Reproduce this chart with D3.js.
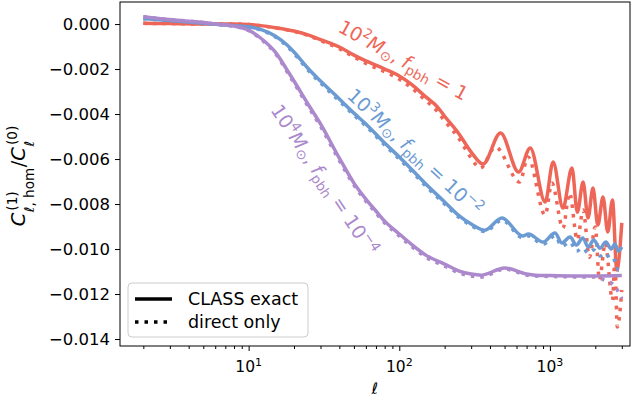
<!DOCTYPE html>
<html>
<head>
<meta charset="utf-8">
<script src="https://cdn.jsdelivr.net/npm/d3@7"></script>
<style>
  body { margin: 0; background: #fff; }
  text { font-family: "DejaVu Sans", sans-serif; }
</style>
</head>
<body>
<div id="chart"></div>
<script>
const width = 640;
const height = 402;
const plot = { left: 120, right: 630, top: 2, bottom: 346 };

// ---- data ----
const ell_red_exact = [2, 3, 5, 8, 10, 12, 15, 20, 25, 30, 40, 50, 60, 80, 100, 120, 150, 180, 200, 250, 300, 360, 470, 620, 740, 930, 1050, 1220, 1400, 1520, 1660, 1790, 1930, 2080, 2250, 2420, 2600, 2780, 3000];
const red_exact = [0.00003, 0.00002, 0, 0, -0.00002, -0.00007, -0.00016, -0.00031, -0.00049, -0.00069, -0.00102, -0.00138, -0.00164, -0.00200, -0.00231, -0.00267, -0.00324, -0.00370, -0.00410, -0.00490, -0.00569, -0.00622, -0.00484, -0.00658, -0.00551, -0.00791, -0.00613, -0.00818, -0.00640, -0.00836, -0.00702, -0.00862, -0.00729, -0.00893, -0.00769, -0.00924, -0.00782, -0.01093, -0.00884];

const ell_red_direct = [2, 3, 5, 8, 10, 12, 15, 20, 25, 30, 40, 50, 60, 80, 100, 120, 150, 180, 200, 250, 300, 345, 435, 630, 715, 930, 1030, 1220, 1350, 1520, 1660, 1830, 2000, 2130, 2330, 2600, 2700, 2800, 3000];
const red_direct = [0.00003, 0.00002, 0, 0, -0.00002, -0.00008, -0.00017, -0.00033, -0.00052, -0.00073, -0.00110, -0.00146, -0.00175, -0.00212, -0.00245, -0.00283, -0.00340, -0.00390, -0.00430, -0.00511, -0.00596, -0.00640, -0.00547, -0.00702, -0.00591, -0.00849, -0.00707, -0.00907, -0.00751, -0.00960, -0.00827, -0.01036, -0.00902, -0.01138, -0.00973, -0.01227, -0.01049, -0.01347, -0.01182];

const ell_blue_exact = [2, 3, 4, 5, 6, 8, 10, 12, 15, 18, 20, 25, 30, 40, 50, 60, 80, 100, 120, 150, 200, 250, 300, 370, 480, 660, 720, 900, 1080, 1200, 1360, 1500, 1650, 1800, 1950, 2150, 2350, 2550, 2700, 2850, 3000];
const blue_exact = [0.00024, 0.00016, 0.00009, 0.00003, -0.00001, -0.00007, -0.00012, -0.00024, -0.00053, -0.00093, -0.00124, -0.00200, -0.00253, -0.00333, -0.00396, -0.00444, -0.00529, -0.00591, -0.00644, -0.00711, -0.00791, -0.00853, -0.00889, -0.00916, -0.00862, -0.00942, -0.00933, -0.00969, -0.00929, -0.00973, -0.00947, -0.00982, -0.00951, -0.00991, -0.00960, -0.00996, -0.00969, -0.01000, -0.00978, -0.01009, -0.00991];
const blue_direct = [0.00024, 0.00016, 0.00009, 0.00003, -0.00001, -0.00008, -0.00013, -0.00026, -0.00057, -0.00099, -0.00131, -0.00208, -0.00262, -0.00342, -0.00405, -0.00453, -0.00538, -0.00600, -0.00653, -0.00720, -0.00800, -0.00860, -0.00896, -0.00922, -0.00872, -0.00950, -0.00942, -0.00978, -0.00942, -0.00987, -0.00969, -0.01010, -0.00996, -0.01018, -0.01004, -0.01031, -0.01018, -0.01053, -0.01050, -0.01093, -0.01084];

const ell_purple_exact = [2, 3, 4, 5, 6, 8, 10, 12, 15, 18, 20, 25, 30, 40, 50, 60, 70, 80, 100, 120, 150, 200, 250, 300, 350, 500, 700, 800, 1000, 1500, 2000, 3000];
const purple_exact = [0.00033, 0.00020, 0.00013, 0.00007, 0, -0.00009, -0.00027, -0.00062, -0.00124, -0.00204, -0.00253, -0.00360, -0.00444, -0.00596, -0.00707, -0.00778, -0.00831, -0.00876, -0.00933, -0.00978, -0.01027, -0.01067, -0.01098, -0.01111, -0.01116, -0.01084, -0.01111, -0.01116, -0.01118, -0.01120, -0.01120, -0.01118];

const ell_purple_direct = [2, 3, 4, 5, 6, 8, 10, 12, 15, 18, 20, 25, 30, 40, 50, 60, 70, 80, 100, 120, 150, 200, 250, 300, 350, 500, 700, 800, 1000, 1500, 2000, 2200, 2400, 2600, 2800, 3000];
const purple_direct = [0.00033, 0.00020, 0.00013, 0.00007, 0, -0.00010, -0.00029, -0.00066, -0.00130, -0.00212, -0.00262, -0.00370, -0.00455, -0.00607, -0.00716, -0.00787, -0.00840, -0.00884, -0.00942, -0.00987, -0.01036, -0.01076, -0.01107, -0.01120, -0.01124, -0.01089, -0.01116, -0.01120, -0.01122, -0.01124, -0.01124, -0.01133, -0.01142, -0.01155, -0.01182, -0.01220];

const y_ticks = [0, -0.002, -0.004, -0.006, -0.008, -0.010, -0.012, -0.014];
const x_major = [10, 100, 1000];
const x_minor = [2, 3, 4, 5, 6, 7, 8, 9, 20, 30, 40, 50, 60, 70, 80, 90, 200, 300, 400, 500, 600, 700, 800, 900, 2000, 3000];
const legend_labels = ['CLASS exact', 'direct only'];

const series = [
  { color: '#ee6657', ellExact: ell_red_exact, exact: red_exact, ellDirect: ell_red_direct, direct: red_direct,
    mass: '2', fexp: null, lx: 337, ly: 31, angle: 29 },
  { color: '#6b9bd2', ellExact: ell_blue_exact, exact: blue_exact, ellDirect: ell_blue_exact, direct: blue_direct,
    mass: '3', fexp: '\u22122', lx: 346, ly: 97, angle: 43 },
  { color: '#ab89cc', ellExact: ell_purple_exact, exact: purple_exact, ellDirect: ell_purple_direct, direct: purple_direct,
    mass: '4', fexp: '\u22124', lx: 270, ly: 110, angle: 56.5 }
];

const fontSize = 15.5;
const yTickSize = 16.5;
const lw = 3.5;
const dots = '3.5,6';

let svg = d3.select('#chart').append('svg')
  .attr('width', width)
  .attr('height', height);

let x = d3.scaleLog()
  .domain([1.40, 3400])
  .range([plot.left, plot.right]);

let y = d3.scaleLinear()
  .domain([-0.01431, 0.00098])
  .range([plot.bottom, plot.top]);

// clip to axes
svg.append('clipPath').attr('id', 'clip')
  .append('rect')
  .attr('x', plot.left).attr('y', plot.top)
  .attr('width', plot.right - plot.left).attr('height', plot.bottom - plot.top);

let lineGroup = svg.append('g').attr('clip-path', 'url(#clip)');

series.forEach((s) => {
  let exactLine = d3.line()
    .x((d, i) => x(s.ellExact[i]))
    .y((d) => y(d))
    .curve(d3.curveMonotoneX);
  let directLine = d3.line()
    .x((d, i) => x(s.ellDirect[i]))
    .y((d) => y(d))
    .curve(d3.curveMonotoneX);

  lineGroup.append('path')
    .attr('d', exactLine(s.exact))
    .attr('fill', 'none')
    .attr('stroke', s.color)
    .attr('stroke-width', lw);

  lineGroup.append('path')
    .attr('d', directLine(s.direct))
    .attr('fill', 'none')
    .attr('stroke', s.color)
    .attr('stroke-width', lw)
    .attr('stroke-dasharray', dots);
});

// rotated labels on the curves
series.forEach((s) => {
  let t = svg.append('text')
    .attr('transform', `translate(${s.lx}, ${s.ly}) rotate(${s.angle})`)
    .attr('fill', s.color)
    .attr('font-size', 19);
  t.append('tspan').text('10');
  t.append('tspan').attr('font-size', 13.3).attr('dy', -8).text(s.mass);
  t.append('tspan').attr('dy', 8).attr('font-style', 'italic').text('M');
  t.append('tspan').attr('font-size', 13.3).attr('dy', 3).text('\u2299');
  t.append('tspan').attr('dy', -3).text(', ');
  t.append('tspan').attr('font-style', 'italic').text('f');
  t.append('tspan').attr('font-size', 13.3).attr('dy', 4).text('pbh');
  if (s.fexp) {
    t.append('tspan').attr('dy', -4).text(' = 10');
    t.append('tspan').attr('font-size', 13.3).attr('dy', -8).text(s.fexp);
  } else {
    t.append('tspan').attr('dy', -4).text(' = 1');
  }
});

// axes
let leftAxis = d3.axisLeft(y)
  .tickValues(y_ticks)
  .tickSize(5)
  .tickPadding(5)
  .tickFormat((d) => (d < 0 ? '\u2212' : '') + Math.abs(d).toFixed(3));

let gy = svg.append('g')
  .attr('transform', `translate(${plot.left}, 0)`)
  .call(leftAxis);
gy.select('.domain').remove();
gy.selectAll('text').attr('font-size', yTickSize).attr('font-family', 'DejaVu Sans').attr('fill', '#000');

let minorAxis = d3.axisBottom(x).tickValues(x_minor).tickSize(3).tickFormat('');
let gxm = svg.append('g')
  .attr('transform', `translate(0, ${plot.bottom})`)
  .call(minorAxis);
gxm.select('.domain').remove();

let majorAxis = d3.axisBottom(x).tickValues(x_major).tickSize(5).tickFormat('');
let gx = svg.append('g')
  .attr('transform', `translate(0, ${plot.bottom})`)
  .call(majorAxis);
gx.select('.domain').remove();

x_major.forEach((v) => {
  let t = svg.append('text')
    .attr('x', x(v))
    .attr('y', plot.bottom + 26)
    .attr('text-anchor', 'middle')
    .attr('font-size', fontSize)
    .attr('fill', '#000');
  t.append('tspan').text('10');
  t.append('tspan').attr('font-size', 11).attr('dy', -6.5).text(String(Math.round(Math.log10(v))));
});

svg.selectAll('.tick line').attr('stroke', '#000').attr('stroke-width', 1);

// frame
svg.append('rect')
  .attr('x', plot.left).attr('y', plot.top)
  .attr('width', plot.right - plot.left).attr('height', plot.bottom - plot.top)
  .attr('fill', 'none')
  .attr('stroke', '#000')
  .attr('stroke-width', 1);

// x label
svg.append('text')
  .attr('x', (plot.left + plot.right) / 2)
  .attr('y', 394)
  .attr('text-anchor', 'middle')
  .attr('font-size', fontSize)
  .attr('font-style', 'italic')
  .text('\u2113');

// y label, built piece by piece and centred
const labelSize = 19.5;
const subSize = 13.6;
let yl = svg.append('g').attr('transform', 'translate(25, 176) rotate(-90)');
let ylInner = yl.append('g');
function piece(txt, u, v, size, italic) {
  let t = ylInner.append('text')
    .attr('x', u).attr('y', v)
    .attr('font-size', size)
    .attr('font-style', italic ? 'italic' : 'normal')
    .text(txt);
  return t.node().getComputedTextLength();
}
let u = 0;
u += piece('C', u, 0, labelSize, true) + 0.5;
let w1 = piece('(1)', u + 1.5, -8, subSize, false) + 1.5;
let w2 = piece('\u2113, hom', u, 9, subSize, false);
u += Math.max(w1, w2) + 0.5;
u += piece('/', u, 0, labelSize, false);
u += piece('C', u, 0, labelSize, true) + 0.5;
let w3 = piece('(0)', u + 1.5, -8, subSize, false) + 1.5;
let w4 = piece('\u2113', u, 9, subSize, true);
u += Math.max(w3, w4);
ylInner.attr('transform', `translate(${-u / 2}, 0)`);

// legend
const legendSize = 17.5;
let legend = svg.append('g').attr('transform', 'translate(128, 283)');
legend.append('rect')
  .attr('width', 180).attr('height', 54)
  .attr('rx', 4)
  .attr('fill', '#fff').attr('fill-opacity', 0.8)
  .attr('stroke', '#cccccc').attr('stroke-width', 1);
legend_labels.forEach((label, i) => {
  let yy = 16 + i * 23;
  legend.append('line')
    .attr('x1', 7).attr('x2', 44)
    .attr('y1', yy).attr('y2', yy)
    .attr('stroke', '#000')
    .attr('stroke-width', lw)
    .attr('stroke-dasharray', i === 0 ? null : dots);
  legend.append('text')
    .attr('x', 60).attr('y', yy + 6)
    .attr('font-size', legendSize)
    .text(label);
});
</script>
</body>
</html>
